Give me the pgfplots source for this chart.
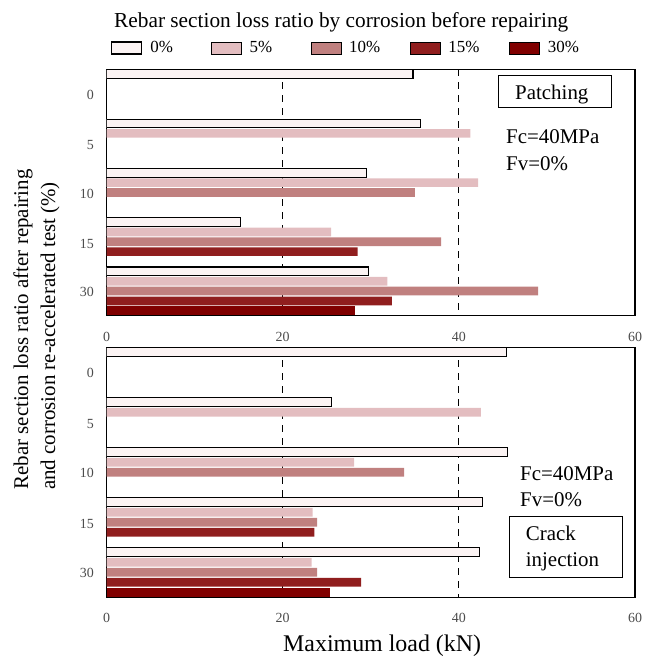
\documentclass[border=0pt]{standalone}
\usepackage{fontspec}
\setmainfont{Liberation Serif}
\usepackage{pgfplots}
\pgfplotsset{compat=1.18}
\definecolor{c0}{HTML}{FBF3F3}
\definecolor{c5}{HTML}{E3BDC0}
\definecolor{c10}{HTML}{C0807F}
\definecolor{c15}{HTML}{901E1E}
\definecolor{c30}{HTML}{800000}
\pgfplotsset{
  mylegend/.style={legend image code/.code={\draw[##1] (0bp,-6bp) rectangle (30bp,6bp);}},
  panel/.style={
    scale only axis, width=528.5bp,
    xmin=0, xmax=60, ymin=0, ymax=25, y dir=reverse,
    xtick={0,20,40,60},
    ytick={2.6,7.7,12.6,17.7,22.6}, yticklabels={0,5,10,15,30},
    xmajorgrids, grid style={black, line width=0.8bp, dash pattern=on 7bp off 6bp},
    major tick length=0pt,
    axis line style={line width=1.2bp},
    /pgf/number format/assume math mode=true,
    tick label style={font=\fontsize{14}{16}\selectfont, text=black!70},
    xticklabel style={anchor=center, yshift=-21bp, inner sep=0pt},
    yticklabel style={anchor=east, xshift=-12.5bp, inner sep=0pt},
  },
  b0/.style={xbar, bar shift=0pt, bar width=0.88, fill=c0, draw=black, line width=1.1bp, mylegend},
  b5/.style={xbar, bar shift=0pt, bar width=0.88, fill=c5, draw=none, mylegend},
  b10/.style={xbar, bar shift=0pt, bar width=0.88, fill=c10, draw=none, mylegend},
  b15/.style={xbar, bar shift=0pt, bar width=0.88, fill=c15, draw=none, mylegend},
  b30/.style={xbar, bar shift=0pt, bar width=0.88, fill=c30, draw=none, mylegend},
}
\begin{document}
\begin{tikzpicture}
\useasboundingbox (0,0) rectangle (653bp,-657bp);
% top panel: Patching
\begin{axis}[panel, at={(106.5bp,-315.7bp)}, anchor=south west, height=246.4bp,
  legend columns=5,
  legend style={at={(0.0085,1.0864)}, anchor=west, draw=none, fill=none, inner sep=0pt,
    font=\fontsize{17}{20}\selectfont, nodes={inner sep=0pt},
    /tikz/every odd column/.append style={column sep=8bp},
    /tikz/every even column/.append style={column sep=17bp}},
]
\addplot[b0] coordinates {(34.8,0.5) (35.6,5.5) (29.5,10.5) (15.2,15.5) (29.7,20.5)};
\addlegendentry{\makebox[44bp][l]{0\%}}
\addplot[b5] coordinates {(41.3,6.5) (42.2,11.5) (25.5,16.5) (31.9,21.5)};
\addlegendentry{\makebox[44bp][l]{5\%}}
\addplot[b10] coordinates {(35.0,12.5) (38.0,17.5) (49.0,22.5)};
\addlegendentry{\makebox[44bp][l]{10\%}}
\addplot[b15] coordinates {(28.5,18.5) (32.4,23.5)};
\addlegendentry{\makebox[44bp][l]{15\%}}
\addplot[b30] coordinates {(28.2,24.5)};
\addlegendentry{\makebox[44bp][l]{30\%}}
\end{axis}
% bottom panel: Crack injection
\begin{axis}[panel, at={(106.5bp,-597.3bp)}, anchor=south west, height=250bp]
\addplot[b0] coordinates {(45.4,0.5) (25.5,5.5) (45.5,10.5) (42.7,15.5) (42.3,20.5)};
\addplot[b5] coordinates {(42.5,6.5) (28.1,11.5) (23.4,16.5) (23.3,21.5)};
\addplot[b10] coordinates {(33.8,12.5) (23.9,17.5) (23.9,22.5)};
\addplot[b15] coordinates {(23.6,18.5) (28.9,23.5)};
\addplot[b30] coordinates {(25.4,24.5)};
\end{axis}
% texts
\node[anchor=base west, inner sep=0pt, font=\fontsize{21.4}{25}\selectfont] at (114bp,-27.3bp) {Rebar section loss ratio by corrosion before repairing};
\node[rotate=90, anchor=base, inner sep=0pt, font=\fontsize{21}{25}\selectfont] at (28bp,-329.5bp) {Rebar section loss ratio after repairing};
\node[rotate=90, anchor=base, inner sep=0pt, font=\fontsize{21}{25}\selectfont] at (55bp,-336bp) {and corrosion re-accelerated test (\%)};
\node[anchor=base west, inner sep=0pt, font=\fontsize{24}{28}\selectfont] at (283bp,-651bp) {Maximum load (kN)};
% top annotations
\draw[line width=0.9bp] (498.3bp,-75.7bp) rectangle (611bp,-107.7bp);
\node[anchor=base west, inner sep=0pt, font=\fontsize{21}{25}\selectfont] at (515bp,-99.5bp) {Patching};
\node[anchor=base west, inner sep=0pt, font=\fontsize{21}{25}\selectfont] at (506bp,-143.5bp) {Fc=40MPa};
\node[anchor=base west, inner sep=0pt, font=\fontsize{21}{25}\selectfont] at (506bp,-170bp) {Fv=0\%};
% bottom annotations
\node[anchor=base west, inner sep=0pt, font=\fontsize{21}{25}\selectfont] at (520bp,-480bp) {Fc=40MPa};
\node[anchor=base west, inner sep=0pt, font=\fontsize{21}{25}\selectfont] at (520bp,-506bp) {Fv=0\%};
\draw[line width=0.9bp] (509.3bp,-516.7bp) rectangle (622.3bp,-577.3bp);
\node[anchor=base west, inner sep=0pt, font=\fontsize{21}{25}\selectfont] at (525.7bp,-540bp) {Crack};
\node[anchor=base west, inner sep=0pt, font=\fontsize{21}{25}\selectfont] at (525.7bp,-566bp) {injection};
\end{tikzpicture}
\end{document}
